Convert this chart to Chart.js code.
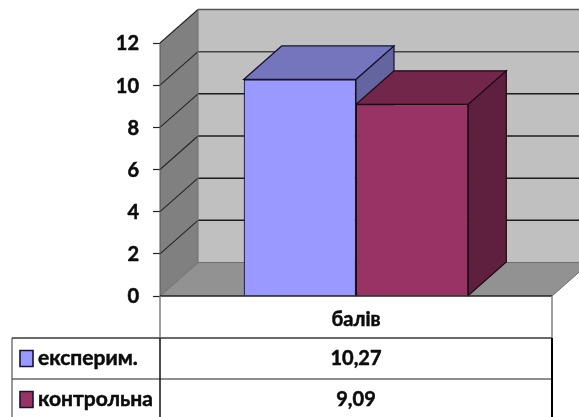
<!DOCTYPE html>
<html>
<head>
<meta charset="utf-8">
<title>балів</title>
<script src="https://cdn.jsdelivr.net/npm/chart.js@4"></script>
<style>
  html, body { margin: 0; padding: 0; background: #fff; overflow: hidden; }
  #wrap { width: 579px; height: 417px; }
</style>
</head>
<body>
<div id="wrap"><canvas id="chart" width="579" height="417"></canvas></div>
<script>
const categories = ['балів'];
const seriesNames = ['експерим.', 'контрольна'];
const experimental = [10.27];
const control = [9.09];
const yTicks = [0, 2, 4, 6, 8, 10, 12];

const FONT = '"Lato", "Open Sans", sans-serif';
const TEXT_COLOR = '#0c0c0c';
const DEPTH_X = 38;
const DEPTH_Y = 33.5;
const faces = [
  { front: '#9999ff', top: '#7575bd', side: '#6464a0', edge: '#14142e' },
  { front: '#993366', top: '#72264a', side: '#5f203f', edge: '#1e0612' }
];

function poly(ctx, pts, fill, stroke, width) {
  ctx.beginPath();
  pts.forEach((p, i) => (i ? ctx.lineTo(p[0], p[1]) : ctx.moveTo(p[0], p[1])));
  ctx.closePath();
  if (fill) { ctx.fillStyle = fill; ctx.fill(); }
  if (stroke) { ctx.strokeStyle = stroke; ctx.lineWidth = width || 1; ctx.stroke(); }
}

function line(ctx, x1, y1, x2, y2, color, width) {
  ctx.beginPath();
  ctx.moveTo(x1, y1);
  ctx.lineTo(x2, y2);
  ctx.strokeStyle = color;
  ctx.lineWidth = width;
  ctx.stroke();
}

function heavyText(ctx, text, x, y) {
  ctx.fillText(text, x, y);
  ctx.strokeText(text, x, y);
}

// Walls, floor and the receding faces of the columns
const box3d = {
  id: 'box3d',
  beforeDatasetsDraw(chart) {
    const { ctx, chartArea: a, scales: { y } } = chart;
    const dx = DEPTH_X, dy = DEPTH_Y;
    ctx.save();
    poly(ctx, [[a.left + dx, a.top - dy], [a.right + dx, a.top - dy], [a.right + dx, a.bottom - dy], [a.left + dx, a.bottom - dy]], '#c0c0c0');
    poly(ctx, [[a.left, a.top], [a.left + dx, a.top - dy], [a.left + dx, a.bottom - dy], [a.left, a.bottom]], '#808080');
    poly(ctx, [[a.left, a.bottom], [a.right, a.bottom], [a.right + dx, a.bottom - dy], [a.left + dx, a.bottom - dy]], '#929292');

    yTicks.forEach(v => {
      const py = y.getPixelForValue(v);
      const isTop = v === yTicks[yTicks.length - 1];
      const color = isTop ? '#555555' : (v > 8 ? '#444444' : '#1c1c1c');
      if (v > 0) line(ctx, a.left + dx, py - dy, a.right + dx, py - dy, color, 1.5);
      line(ctx, a.left, py, a.left + dx, py - dy, v === 0 ? '#777777' : '#262626', 1.1);
    });
    line(ctx, a.left + dx, a.top - dy, a.left + dx, a.bottom - dy, '#6e6e6e', 1);
    line(ctx, a.left, a.top, a.left, a.bottom, '#555555', 1);
    line(ctx, a.left + dx, a.bottom - dy, a.right + dx, a.bottom - dy, '#6e6e6e', 1);
    line(ctx, a.right, a.bottom, a.right + dx, a.bottom - dy, '#6e6e6e', 1);

    chart.data.datasets.forEach((ds, i) => {
      const bar = chart.getDatasetMeta(i).data[0];
      const l = bar.x - bar.width / 2;
      const r = bar.x + bar.width / 2;
      const t = bar.y;
      const b = bar.base;
      const f = faces[i];
      poly(ctx, [[l, t], [r, t], [r + dx, t - dy], [l + dx, t - dy]], f.top, f.edge, 1.2);
      poly(ctx, [[r, t], [r + dx, t - dy], [r + dx, b - dy], [r, b]], f.side, f.edge, 1.2);
    });
    ctx.restore();
  }
};

// Data table below the plot, keyed by series colour
const dataTable = {
  id: 'dataTable',
  afterDraw(chart) {
    const { ctx, chartArea: a } = chart;
    const tableLeft = 12;
    const rowLines = [338, 379, 420];
    ctx.save();
    line(ctx, a.left, a.bottom, a.right, a.bottom, '#222222', 1.4);
    line(ctx, a.left, a.bottom, a.left, rowLines[0], '#777777', 1.4);
    line(ctx, a.right, a.bottom, a.right, rowLines[0], '#888888', 1.6);
    line(ctx, tableLeft, rowLines[0], a.right, rowLines[0], '#6a6a6a', 1.8);
    line(ctx, tableLeft, rowLines[1], a.right, rowLines[1], '#6a6a6a', 1.6);
    line(ctx, tableLeft, rowLines[0], tableLeft, 417, '#333333', 1);
    line(ctx, a.left, rowLines[0], a.left, 417, '#111111', 1.5);
    line(ctx, a.right, rowLines[0], a.right, 417, '#000000', 2);

    ctx.textBaseline = 'middle';
    chart.data.datasets.forEach((ds, i) => {
      const cy = (rowLines[i] + rowLines[i + 1]) / 2;
      poly(ctx, [[20, cy - 8], [33, cy - 8], [33, cy + 8], [20, cy + 8]], faces[i].front, '#14142e', 1.6);
      ctx.fillStyle = TEXT_COLOR;
      ctx.strokeStyle = TEXT_COLOR;
      ctx.lineWidth = 0.5;
      ctx.font = 'bold 21px ' + FONT;
      ctx.textAlign = 'left';
      heavyText(ctx, ds.label, 38, cy);
      ctx.font = 'bold 20px ' + FONT;
      ctx.textAlign = 'center';
      heavyText(ctx, ds.data[0].toFixed(2).replace('.', ','), (a.left + a.right) / 2, cy);
    });
    ctx.restore();
  }
};

new Chart(document.getElementById('chart'), {
  type: 'bar',
  data: {
    labels: categories,
    datasets: [
      {
        label: seriesNames[0],
        data: experimental,
        backgroundColor: faces[0].front,
        borderColor: faces[0].edge,
        borderWidth: 1.2,
        barPercentage: 1,
        categoryPercentage: 0.573
      },
      {
        label: seriesNames[1],
        data: control,
        backgroundColor: faces[1].front,
        borderColor: faces[1].edge,
        borderWidth: 1.2,
        barPercentage: 1,
        categoryPercentage: 0.573
      }
    ]
  },
  options: {
    responsive: false,
    animation: false,
    layout: { padding: { top: 43, right: 27, bottom: 0, left: 0 } },
    plugins: { legend: { display: false }, tooltip: { enabled: false } },
    scales: {
      x: {
        afterFit(scale) { scale.height = 121; },
        grid: { display: false },
        border: { display: false },
        ticks: {
          color: TEXT_COLOR,
          padding: 4,
          textStrokeColor: TEXT_COLOR,
          textStrokeWidth: 0.5,
          font: { family: FONT, size: 20, weight: 'bold' }
        }
      },
      y: {
        min: 0,
        max: 12,
        afterFit(scale) { scale.width = 160; },
        afterBuildTicks(scale) { scale.ticks = yTicks.map(value => ({ value })); },
        grid: { drawOnChartArea: false, tickLength: 7, color: '#222222', tickWidth: 1.2 },
        border: { display: false },
        ticks: {
          color: TEXT_COLOR,
          padding: 14,
          labelOffset: 1,
          textStrokeColor: TEXT_COLOR,
          textStrokeWidth: 0.5,
          font: { family: FONT, size: 20, weight: 'bold' }
        }
      }
    }
  },
  plugins: [box3d, dataTable]
});
</script>
</body>
</html>
